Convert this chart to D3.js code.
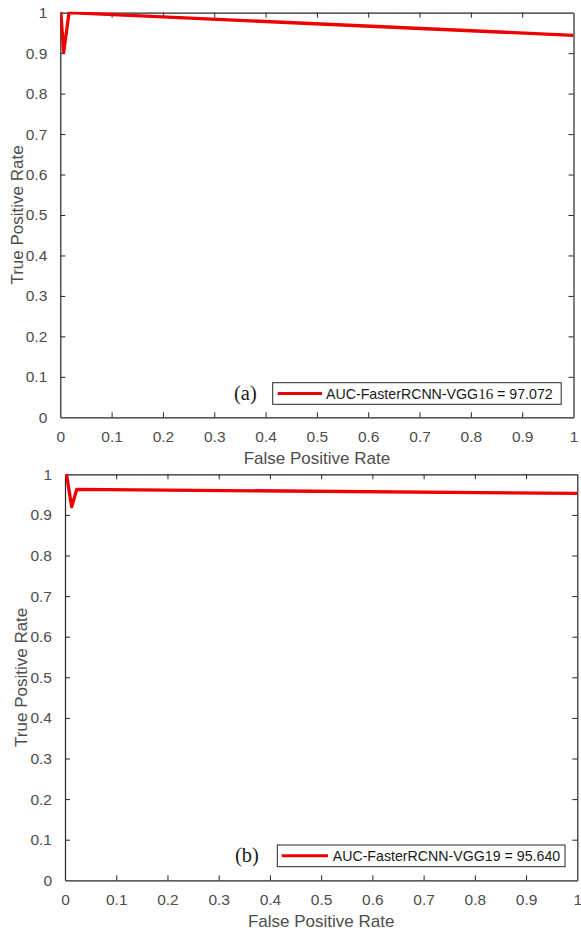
<!DOCTYPE html>
<html>
<head>
<meta charset="utf-8">
<script src="https://cdn.jsdelivr.net/npm/d3@7/dist/d3.min.js"></script>
<style>
  html, body { margin: 0; padding: 0; background: #fff; }
  svg { display: block; }
</style>
</head>
<body>
<svg id="chart" width="581" height="933"></svg>
<script>
// ---- data ----
const tickValues = [0, 0.1, 0.2, 0.3, 0.4, 0.5, 0.6, 0.7, 0.8, 0.9, 1];
const tickLabels = ["0", "0.1", "0.2", "0.3", "0.4", "0.5", "0.6", "0.7", "0.8", "0.9", "1"];

const fprA = [0, 0.001, 0.0066, 0.017, 1.0];
const tprA = [1.0, 1.0, 0.902, 1.0, 0.944];
const fprB = [0.003, 0.013, 0.023, 1.0];
const tprB = [1.0, 0.92, 0.963, 0.953];

const panelTags = ["(a)", "(b)"];
const legendNames = ["AUC-FasterRCNN-VGG", "AUC-FasterRCNN-VGG"];
const legendNums = ["16", "19"];
const legendAuc = ["97.072", "95.640"];
const xTitle = "False Positive Rate";
const yTitle = "True Positive Rate";

// ---- layout ----
const panels = [
  { x0: 60.3, x1: 573.5, y0: 12.7, y1: 417.3, fpr: fprA, tpr: tprA, tag: 0,
    ylabX: 17, legend: { x: 272.7, y: 382.7, w: 288.5, h: 21.6, lx0: 277.7, lx1: 322, tx: 326 }, tagX: 234, numSerif: true },
  { x0: 65, x1: 577.3, y0: 474.3, y1: 880.3, fpr: fprB, tpr: tprB, tag: 1,
    ylabX: 21, legend: { x: 277.3, y: 845, w: 287.7, h: 21.7, lx0: 281.7, lx1: 328, tx: 332.7 }, tagX: 235, numSerif: false }
];

const svg = d3.select("#chart");
svg.append("rect").attr("width", 581).attr("height", 933).attr("fill", "#fff");

const axisColor = "#262626";
const labelColor = "#4d4d4d";
const sans = "'Liberation Sans', Arial, Helvetica, sans-serif";
const serif = "'Liberation Serif', 'Times New Roman', serif";

panels.forEach((p, i) => {
  const x = d3.scaleLinear().domain([0, 1]).range([p.x0, p.x1]);
  const y = d3.scaleLinear().domain([0, 1]).range([p.y1, p.y0]);
  const g = svg.append("g");

  const clipId = "clip" + i;
  svg.append("clipPath").attr("id", clipId).append("rect")
    .attr("x", p.x0).attr("y", p.y0 - 1).attr("width", p.x1 - p.x0).attr("height", p.y1 - p.y0 + 1);

  const tickLen = 5;
  const fmt = (d) => tickLabels[tickValues.indexOf(d)];
  const xb = g.append("g").attr("transform", `translate(0,${p.y1})`)
    .call(d3.axisBottom(x).tickValues(tickValues).tickFormat(fmt).tickSizeInner(-tickLen).tickSizeOuter(0).tickPadding(14));
  const xt = g.append("g").attr("transform", `translate(0,${p.y0})`)
    .call(d3.axisTop(x).tickValues(tickValues).tickFormat("").tickSizeInner(-tickLen).tickSizeOuter(0));
  const yl = g.append("g").attr("transform", `translate(${p.x0},0)`)
    .call(d3.axisLeft(y).tickValues(tickValues).tickFormat(fmt).tickSizeInner(-tickLen).tickSizeOuter(0).tickPadding(13));
  const yr = g.append("g").attr("transform", `translate(${p.x1},0)`)
    .call(d3.axisRight(y).tickValues(tickValues).tickFormat("").tickSizeInner(-tickLen).tickSizeOuter(0));

  [xb, xt, yl, yr].forEach(a => {
    a.select(".domain").attr("stroke", axisColor).attr("stroke-width", 1.2);
    a.selectAll(".tick line").attr("stroke", axisColor).attr("stroke-width", 1);
    a.selectAll(".tick text").attr("fill", labelColor).attr("font-family", sans).attr("font-size", 15.5);
  });
  [xb, xt].forEach(a => a.selectAll(".tick line").filter(d => d === 0 || d === 1).remove());
  [yl, yr].forEach(a => a.selectAll(".tick line").filter(d => d === 0 || d === 1).remove());

  const pts = p.fpr.map((f, k) => [f, p.tpr[k]]);
  g.append("path")
    .datum(pts)
    .attr("clip-path", `url(#${clipId})`)
    .attr("fill", "none")
    .attr("stroke", "#ee0000")
    .attr("stroke-width", 3.3)
    .attr("stroke-linejoin", "round")
    .attr("d", d3.line().x(d => x(d[0])).y(d => y(d[1])));

  g.append("text")
    .attr("x", (p.x0 + p.x1) / 2).attr("y", p.y1 + 47)
    .attr("text-anchor", "middle").attr("fill", labelColor)
    .attr("font-family", sans).attr("font-size", 17)
    .text(xTitle);
  g.append("text")
    .attr("transform", `translate(${p.ylabX + 6},${(p.y0 + p.y1) / 2}) rotate(-90)`)
    .attr("text-anchor", "middle").attr("fill", labelColor)
    .attr("font-family", sans).attr("font-size", 17)
    .text(yTitle);

  const L = p.legend;
  g.append("rect").attr("x", L.x).attr("y", L.y).attr("width", L.w).attr("height", L.h)
    .attr("fill", "#fff").attr("stroke", axisColor).attr("stroke-width", 1);
  g.append("line").attr("x1", L.lx0).attr("x2", L.lx1)
    .attr("y1", L.y + L.h / 2).attr("y2", L.y + L.h / 2)
    .attr("stroke", "#ee0000").attr("stroke-width", 3);
  const lt = g.append("text").attr("x", L.tx).attr("y", L.y + L.h / 2 + 5)
    .attr("fill", "#1a1a1a").attr("font-family", sans).attr("font-size", 14.2);
  lt.append("tspan").text(legendNames[i]);
  lt.append("tspan").attr("font-family", p.numSerif ? serif : sans)
    .attr("font-size", p.numSerif ? 15 : 14.2).text(legendNums[i]);
  lt.append("tspan").text(" = " + legendAuc[i]);

  g.append("text").attr("x", p.tagX).attr("y", L.y + L.h / 2 + 6.5)
    .attr("fill", "#1a1a1a").attr("font-family", serif).attr("font-size", 20.5)
    .text(panelTags[i]);
});
</script>
</body>
</html>
